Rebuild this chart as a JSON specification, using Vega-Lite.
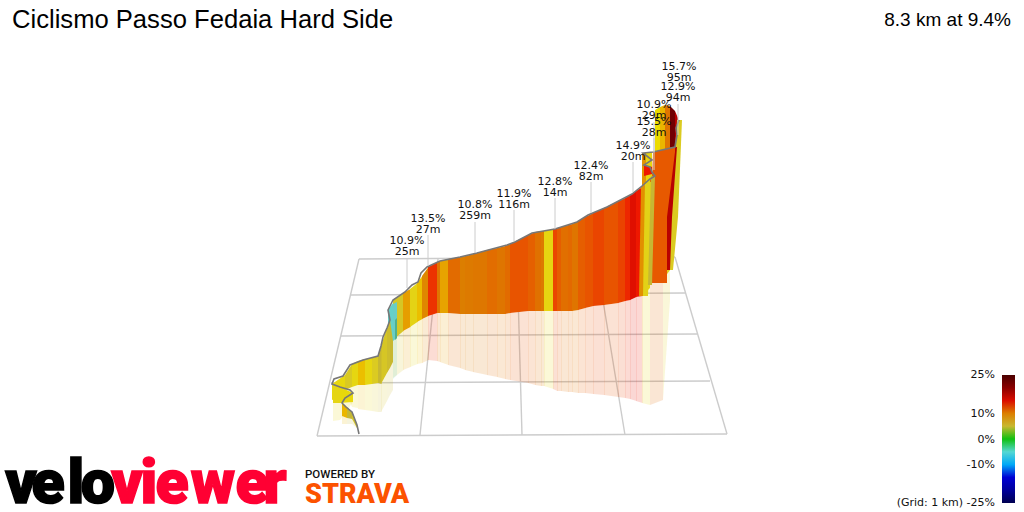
{"$schema":"https://vega.github.io/schema/vega-lite/v6.json","width":1024,"height":512,"padding":0,"autosize":{"type":"none"},"background":"white","config":{"view":{"stroke":null}},
"datasets":{
"grid":[{"x":359,"y":259,"x2":675,"y2":257},{"x":351,"y":295,"x2":685,"y2":293},{"x":341,"y":336,"x2":697,"y2":334},{"x":331,"y":383,"x2":710,"y2":381},{"x":317,"y":436,"x2":727,"y2":434},{"x":359,"y":259,"x2":317,"y2":436},{"x":438,"y":259,"x2":420,"y2":435},{"x":517,"y":258,"x2":522,"y2":435},{"x":596,"y":258,"x2":625,"y2":435},{"x":675,"y":257,"x2":727,"y2":434}],
"wall":[
{"s":1,"x":393,"t":300,"b":340,"h":378,"g":6.2},{"s":1,"x":403.5,"t":293,"b":331,"h":370,"g":6.2},
{"s":2,"x":403,"t":293,"b":331,"h":370,"g":9.3},{"s":2,"x":410.5,"t":289,"b":327,"h":367,"g":9.3},
{"s":3,"x":410,"t":289,"b":327,"h":367,"g":7.3},{"s":3,"x":417.5,"t":283,"b":322,"h":364,"g":7.3},
{"s":4,"x":417,"t":283,"b":322,"h":364,"g":8.6},{"s":4,"x":422.5,"t":276,"b":319,"h":363,"g":8.6},
{"s":5,"x":422,"t":276,"b":319,"h":363,"g":9.8},{"s":5,"x":428.5,"t":267,"b":316,"h":360,"g":9.8},
{"s":6,"x":428,"t":267,"b":316,"h":360,"g":13.4},{"s":6,"x":437.5,"t":262,"b":313,"h":361,"g":13.4},
{"s":7,"x":437,"t":262,"b":313,"h":361,"g":10.5},{"s":7,"x":440.5,"t":261,"b":313,"h":362,"g":10.5},
{"s":8,"x":440,"t":261,"b":313,"h":362,"g":9.2},{"s":8,"x":448.5,"t":259,"b":313,"h":365,"g":9.2},
{"s":9,"x":448,"t":259,"b":313,"h":365,"g":11},{"s":9,"x":460.5,"t":257,"b":314,"h":368,"g":11},
{"s":10,"x":460,"t":257,"b":314,"h":368,"g":10},{"s":10,"x":465.5,"t":256,"b":314,"h":370,"g":10},
{"s":11,"x":465,"t":256,"b":314,"h":370,"g":10.2},{"s":11,"x":473.5,"t":254,"b":314,"h":372,"g":10.2},
{"s":12,"x":473,"t":254,"b":314,"h":372,"g":10.4},{"s":12,"x":487.5,"t":250,"b":314,"h":375,"g":10.4},
{"s":13,"x":487,"t":250,"b":314,"h":375,"g":10.9},{"s":13,"x":497.5,"t":248,"b":314,"h":377,"g":10.9},
{"s":14,"x":497,"t":248,"b":314,"h":377,"g":10.5},{"s":14,"x":505.5,"t":246,"b":314,"h":379,"g":10.5},
{"s":15,"x":505,"t":246,"b":314,"h":379,"g":11},{"s":15,"x":510.5,"t":244,"b":313,"h":380,"g":11},
{"s":16,"x":510,"t":244,"b":313,"h":380,"g":12},{"s":16,"x":528.5,"t":235,"b":311,"h":383,"g":12},
{"s":17,"x":528,"t":235,"b":311,"h":383,"g":11.5},{"s":17,"x":535.5,"t":232,"b":311,"h":385,"g":11.5},
{"s":18,"x":535,"t":232,"b":311,"h":385,"g":10.7},{"s":18,"x":541.5,"t":231,"b":311,"h":386,"g":10.7},
{"s":19,"x":541,"t":231,"b":311,"h":386,"g":10.2},{"s":19,"x":544.5,"t":231,"b":311,"h":386,"g":10.2},
{"s":20,"x":544,"t":231,"b":311,"h":386,"g":7.5},{"s":20,"x":553.5,"t":229,"b":311,"h":389,"g":7.5},
{"s":21,"x":553,"t":229,"b":311,"h":389,"g":12.6},{"s":21,"x":557.5,"t":228,"b":311,"h":391,"g":12.6},
{"s":22,"x":557,"t":228,"b":311,"h":391,"g":11.6},{"s":22,"x":561.5,"t":227,"b":311,"h":391,"g":11.6},
{"s":23,"x":561,"t":227,"b":311,"h":391,"g":10.8},{"s":23,"x":568.5,"t":225,"b":311,"h":392,"g":10.8},
{"s":24,"x":568,"t":225,"b":311,"h":392,"g":11.1},{"s":24,"x":572.5,"t":224,"b":311,"h":392,"g":11.1},
{"s":25,"x":572,"t":224,"b":311,"h":392,"g":10.5},{"s":25,"x":578.5,"t":221,"b":310,"h":393,"g":10.5},
{"s":26,"x":578,"t":221,"b":310,"h":393,"g":11.6},{"s":26,"x":585.5,"t":217,"b":308,"h":393,"g":11.6},
{"s":27,"x":585,"t":217,"b":308,"h":393,"g":12},{"s":27,"x":593.5,"t":213,"b":306,"h":394,"g":12},
{"s":28,"x":593,"t":213,"b":306,"h":394,"g":12.7},{"s":28,"x":604.5,"t":208,"b":305,"h":395,"g":12.7},
{"s":29,"x":604,"t":208,"b":305,"h":395,"g":12},{"s":29,"x":618.5,"t":201,"b":303,"h":397,"g":12},
{"s":30,"x":618,"t":201,"b":303,"h":397,"g":12.8},{"s":30,"x":625.5,"t":198,"b":301,"h":398,"g":12.8},
{"s":31,"x":625,"t":198,"b":301,"h":398,"g":13.7},{"s":31,"x":630.5,"t":195,"b":300,"h":399,"g":13.7},
{"s":32,"x":630,"t":195,"b":300,"h":399,"g":14.8},{"s":32,"x":636.5,"t":191,"b":297,"h":401,"g":14.8},
{"s":33,"x":636,"t":191,"b":297,"h":401,"g":14},{"s":33,"x":642.5,"t":187,"b":296,"h":403,"g":14},
{"s":34,"x":642,"t":186,"b":296,"h":403,"g":7.5},{"s":34,"x":650,"t":179,"b":288,"h":405,"g":7.5},
{"s":35,"x":650,"t":175,"b":283,"h":405,"g":11},{"s":35,"x":663,"t":170,"b":282,"h":400,"g":11},
{"s":36,"x":663,"t":170,"b":280,"h":400,"g":7},{"s":36,"x":670,"t":170,"b":270,"h":300,"g":7},
{"s":40,"x":388,"t":310,"b":342,"h":342,"g":-4},{"s":40,"x":393,"t":303,"b":341,"h":341,"g":-4},
{"s":41,"x":393,"t":304,"b":341,"h":379,"g":-3.6},{"s":41,"x":397,"t":302,"b":338,"h":375,"g":-3.6},
{"s":45,"x":395,"t":320,"b":340,"h":340,"g":-1.5},{"s":45,"x":397,"t":318,"b":338,"h":338,"g":-1.5},
{"s":42,"x":381,"t":346,"b":384,"h":412,"g":6.2},{"s":42,"x":387,"t":328,"b":373,"h":401,"g":6.2},
{"s":43,"x":387,"t":328,"b":373,"h":401,"g":5.4},{"s":43,"x":390,"t":320,"b":368,"h":395,"g":5.4},
{"s":44,"x":390,"t":320,"b":368,"h":395,"g":5},{"s":44,"x":393,"t":341,"b":362,"h":390,"g":5},
{"s":50,"x":332,"t":384,"b":400,"h":400,"g":7.6},{"s":50,"x":345,"t":375,"b":395,"h":395,"g":7.6},
{"s":51,"x":345,"t":375,"b":390,"h":390,"g":6.4},{"s":51,"x":352,"t":364,"b":387,"h":407,"g":6.4},
{"s":52,"x":352,"t":364,"b":387,"h":407,"g":7.5},{"s":52,"x":358,"t":361,"b":385,"h":408,"g":7.5},
{"s":53,"x":358,"t":361,"b":385,"h":409,"g":8.6},{"s":53,"x":365,"t":359,"b":385,"h":410,"g":8.6},
{"s":54,"x":365,"t":359,"b":385,"h":410,"g":7.5},{"s":54,"x":372,"t":358,"b":384,"h":411,"g":7.5},
{"s":55,"x":372,"t":358,"b":384,"h":411,"g":6.6},{"s":55,"x":378,"t":356,"b":383,"h":412,"g":6.6},
{"s":56,"x":378,"t":356,"b":383,"h":412,"g":5},{"s":56,"x":381.5,"t":346,"b":384,"h":412,"g":5},
{"s":60,"x":333,"t":385,"b":403,"h":421,"g":7.4},{"s":60,"x":340,"t":387,"b":403,"h":420,"g":7.4},
{"s":61,"x":340,"t":387,"b":403,"h":420,"g":7.7},{"s":61,"x":353,"t":393,"b":402,"h":402,"g":7.7},
{"s":62,"x":342,"t":403,"b":415,"h":423,"g":9},{"s":62,"x":353,"t":393,"b":407,"h":407,"g":8.6},
{"s":63,"x":342,"t":403,"b":416,"h":424,"g":8.8},{"s":63,"x":347,"t":407,"b":418,"h":424,"g":8.8},
{"s":64,"x":347,"t":407,"b":418,"h":424,"g":4.6},{"s":64,"x":352,"t":412,"b":419,"h":424,"g":4.6},
{"s":65,"x":352,"t":412,"b":419,"h":424,"g":6},{"s":65,"x":357,"t":425,"b":428,"h":428,"g":6},
{"s":70,"x":655,"t":110,"b":155,"h":155,"g":8},{"s":70,"x":660,"t":107,"b":155,"h":155,"g":8},
{"s":71,"x":660,"t":107,"b":155,"h":155,"g":8.8},{"s":71,"x":665,"t":105,"b":155,"h":155,"g":8.8},
{"s":72,"x":665,"t":105,"b":155,"h":155,"g":10.5},{"s":72,"x":670,"t":106,"b":155,"h":155,"g":10.5},
{"s":73,"x":670,"t":106,"b":155,"h":155,"g":22},{"s":73,"x":675,"t":111,"b":155,"h":155,"g":22},
{"s":74,"x":675,"t":111,"b":155,"h":155,"g":17},{"s":74,"x":678,"t":118,"b":155,"h":155,"g":17},
{"s":75,"x":642,"t":153,"b":186,"h":186,"g":9.5},{"s":75,"x":646,"t":153,"b":186,"h":186,"g":9.5},
{"s":76,"x":646,"t":153,"b":184,"h":184,"g":7.6},{"s":76,"x":652,"t":152,"b":178,"h":178,"g":7.6},
{"s":77,"x":644,"t":165,"b":176,"h":176,"g":14},{"s":77,"x":652,"t":167,"b":174,"h":174,"g":14}],
"lean":[
{"s":1,"y":120,"l":677,"r":682,"g":6.6},{"s":1,"y":217,"l":671,"r":678,"g":6.6},{"s":1,"y":270,"l":668,"r":673,"g":6.6},
{"s":2,"y":147,"l":670,"r":677,"g":17},{"s":2,"y":217,"l":665,"r":672,"g":17},{"s":2,"y":270,"l":664,"r":670,"g":17},
{"s":3,"y":147,"l":674,"r":675,"g":11.8},{"s":3,"y":152,"l":653,"r":675,"g":11.8},{"s":3,"y":217,"l":651,"r":667,"g":11.8},{"s":3,"y":283,"l":650,"r":667,"g":11.8},
{"s":4,"y":186,"l":641,"r":645,"g":9.6},{"s":4,"y":296,"l":639,"r":645,"g":9.6},
{"s":5,"y":182,"l":645,"r":652,"g":7.2},{"s":5,"y":296,"l":643,"r":648,"g":7.2},
{"s":6,"y":176,"l":651,"r":655,"g":4.8},{"s":6,"y":285,"l":648,"r":652,"g":4.8}],
"road":[{"i":1,"x":359,"y":434},{"i":2,"x":357,"y":425},{"i":3,"x":352,"y":412},{"i":4,"x":346,"y":407},{"i":5,"x":342,"y":403},{"i":6,"x":345,"y":398},{"i":7,"x":353,"y":393},{"i":8,"x":350,"y":390},{"i":9,"x":340,"y":387},{"i":10,"x":332,"y":384},{"i":11,"x":334,"y":379},{"i":12,"x":343,"y":376},{"i":13,"x":350,"y":365},{"i":14,"x":363,"y":360},{"i":15,"x":378,"y":356},{"i":16,"x":381,"y":346},{"i":17,"x":383,"y":337},{"i":18,"x":387,"y":328},{"i":19,"x":390,"y":320},{"i":20,"x":388,"y":310},{"i":21,"x":393,"y":300},{"i":22,"x":405,"y":292},{"i":23,"x":412,"y":285},{"i":24,"x":418,"y":282},{"i":25,"x":421,"y":273},{"i":26,"x":427,"y":267},{"i":27,"x":440,"y":261},{"i":28,"x":460,"y":257},{"i":29,"x":477,"y":253},{"i":30,"x":507,"y":245},{"i":31,"x":515,"y":242},{"i":32,"x":532,"y":233},{"i":33,"x":555,"y":229},{"i":34,"x":577,"y":222},{"i":35,"x":588,"y":215},{"i":36,"x":607,"y":207},{"i":37,"x":632,"y":194},{"i":38,"x":642,"y":186},{"i":39,"x":650,"y":179},{"i":40,"x":655,"y":176},{"i":41,"x":652,"y":172},{"i":42,"x":650,"y":167},{"i":43,"x":644,"y":165},{"i":44,"x":652,"y":160},{"i":45,"x":643,"y":153},{"i":46,"x":653,"y":152},{"i":47,"x":675,"y":147},{"i":48,"x":677,"y":135},{"i":49,"x":676,"y":128},{"i":50,"x":679,"y":120}],
"notes":[{"x":407,"y":241,"from":258,"to":288,"label":"10.9%\n25m"},{"x":428,"y":219,"from":235,"to":266,"label":"13.5%\n27m"},{"x":475,"y":205,"from":222,"to":253,"label":"10.8%\n259m"},{"x":514,"y":194,"from":210,"to":241,"label":"11.9%\n116m"},{"x":555,"y":182,"from":198,"to":229,"label":"12.8%\n14m"},{"x":591,"y":166,"from":182,"to":213,"label":"12.4%\n82m"},{"x":633,"y":146,"from":162,"to":192,"label":"14.9%\n20m"},{"x":654,"y":105,"from":122,"to":152,"label":"10.9%\n29m"},{"x":654,"y":122,"from":138,"to":170,"label":"15.5%\n28m"},{"x":678,"y":87,"from":104,"to":135,"label":"12.9%\n94m"},{"x":679,"y":67,"from":84,"to":90,"label":"15.7%\n95m"}],
"legendText":[{"x":995,"y":375,"label":"25%"},{"x":995,"y":414,"label":"10%"},{"x":995,"y":440,"label":"0%"},{"x":995,"y":465,"label":"-10%"},{"x":995,"y":503,"label":"(Grid: 1 km) -25%"}],
"velo":[{"x":21,"y":503,"c":"v"},{"x":48,"y":503,"c":"e"},{"x":76,"y":503,"c":"l"},{"x":98,"y":503,"c":"o"}],
"viewer":[{"x":127,"y":503,"c":"v"},{"x":149,"y":503,"c":"i"},{"x":172,"y":503,"c":"e"},{"x":213,"y":503,"c":"w"},{"x":252,"y":503,"c":"e"},{"x":275,"y":503,"c":"r"}]
},
"layer":[
{"data":{"name":"grid"},"mark":{"type":"rule","color":"#cccccc","strokeWidth":1.4},"encoding":{"x":{"field":"x","type":"quantitative","axis":null,"scale":{"domain":[0,1024],"range":[0,1024],"nice":false,"zero":false}},"y":{"field":"y","type":"quantitative","axis":null,"scale":{"domain":[0,512],"range":[0,512],"nice":false,"zero":false}},"x2":{"field":"x2"},"y2":{"field":"y2"}}},
{"data":{"name":"wall"},"mark":{"type":"area","fillOpacity":0.17},"encoding":{"x":{"field":"x","type":"quantitative"},"y":{"field":"b","type":"quantitative","stack":null},"y2":{"field":"h"},"detail":{"field":"s","type":"nominal"},"color":{"field":"g","type":"quantitative","scale":{"domain":[-25,-21,-14,-11,-7,-3,-1.5,0,1,2.5,5,8,10,12,14,16,20,25],"range":["#000050","#000090","#0000e0","#0090f0","#00e8e8","#70c8c0","#50b090","#10c010","#30c020","#b0b050","#c8b830","#ecdc00","#dc7e00","#e85400","#ee1800","#c80000","#8b0000","#4a0000"]},"legend":{"orient":"none","legendX":1002,"legendY":375,"title":null,"gradientLength":128,"gradientThickness":13,"gradientStrokeWidth":0,"gradientOpacity":1,"values":[]}}}},
{"data":{"name":"wall"},"mark":{"type":"area"},"encoding":{"x":{"field":"x","type":"quantitative"},"y":{"field":"t","type":"quantitative","stack":null},"y2":{"field":"b"},"detail":{"field":"s","type":"nominal"},"color":{"field":"g","type":"quantitative"}}},
{"data":{"name":"lean"},"mark":{"type":"area","orient":"horizontal"},"encoding":{"y":{"field":"y","type":"quantitative"},"x":{"field":"l","type":"quantitative","stack":null},"x2":{"field":"r"},"detail":{"field":"s","type":"nominal"},"color":{"field":"g","type":"quantitative"}}},
{"data":{"name":"road"},"mark":{"type":"line","color":"#777777","strokeWidth":1.6},"encoding":{"x":{"field":"x","type":"quantitative"},"y":{"field":"y","type":"quantitative"},"order":{"field":"i","type":"quantitative"}}},
{"data":{"name":"notes"},"mark":{"type":"rule","color":"#cccccc","strokeWidth":1},"encoding":{"x":{"field":"x","type":"quantitative"},"y":{"field":"from","type":"quantitative"},"y2":{"field":"to"}}},
{"data":{"name":"notes"},"mark":{"type":"text","font":"DejaVu Sans","fontSize":11,"lineBreak":"\n","lineHeight":11,"align":"center","baseline":"middle","color":"#111111"},"encoding":{"x":{"field":"x","type":"quantitative"},"y":{"field":"y","type":"quantitative"},"text":{"field":"label"}}},
{"data":{"values":[{"x":12,"y":28,"label":"Ciclismo Passo Fedaia Hard Side"}]},"mark":{"type":"text","font":"Liberation Sans","fontSize":25.6,"align":"left","baseline":"alphabetic","color":"#000000"},"encoding":{"x":{"field":"x","type":"quantitative"},"y":{"field":"y","type":"quantitative"},"text":{"field":"label"}}},
{"data":{"values":[{"x":1011,"y":26,"label":"8.3 km at 9.4%"}]},"mark":{"type":"text","font":"Liberation Sans","fontSize":19,"align":"right","baseline":"alphabetic","color":"#000000"},"encoding":{"x":{"field":"x","type":"quantitative"},"y":{"field":"y","type":"quantitative"},"text":{"field":"label"}}},
{"data":{"name":"legendText"},"mark":{"type":"text","font":"DejaVu Sans","fontSize":11,"align":"right","baseline":"middle","color":"#111111"},"encoding":{"x":{"field":"x","type":"quantitative"},"y":{"field":"y","type":"quantitative"},"text":{"field":"label"}}},
{"data":{"name":"velo"},"mark":{"type":"text","font":"Roboto","fontWeight":900,"fontSize":61,"align":"center","baseline":"alphabetic","color":"#000000","stroke":"#000000","strokeWidth":1.5},"encoding":{"x":{"field":"x","type":"quantitative"},"y":{"field":"y","type":"quantitative"},"text":{"field":"c"}}},
{"data":{"name":"viewer"},"mark":{"type":"text","font":"Roboto","fontWeight":900,"fontSize":61,"align":"center","baseline":"alphabetic","color":"#ff0033","stroke":"#ff0033","strokeWidth":1.5},"encoding":{"x":{"field":"x","type":"quantitative"},"y":{"field":"y","type":"quantitative"},"text":{"field":"c"}}},
{"data":{"values":[{"x":305,"y":478,"label":"POWERED BY"}]},"mark":{"type":"text","font":"Roboto","fontWeight":500,"fontSize":11.5,"align":"left","baseline":"alphabetic","color":"#111111"},"encoding":{"x":{"field":"x","type":"quantitative"},"y":{"field":"y","type":"quantitative"},"text":{"field":"label"}}},
{"data":{"values":[{"x":305,"y":503,"label":"STRAVA"}]},"mark":{"type":"text","font":"Roboto","fontWeight":900,"fontSize":27,"align":"left","baseline":"alphabetic","color":"#fc5200"},"encoding":{"x":{"field":"x","type":"quantitative"},"y":{"field":"y","type":"quantitative"},"text":{"field":"label"}}}
]}
